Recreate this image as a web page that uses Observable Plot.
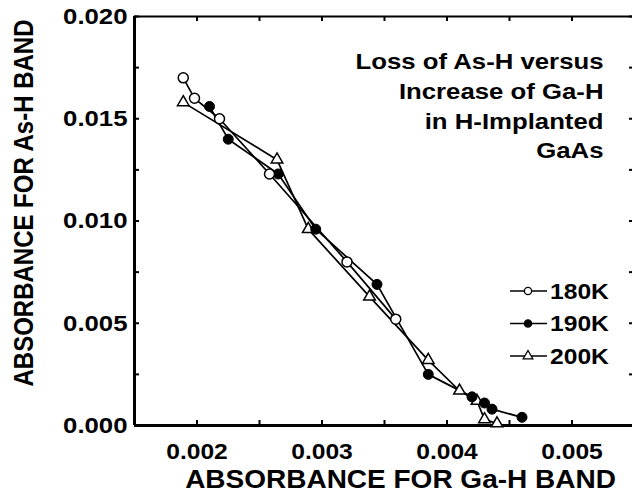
<!DOCTYPE html>
<html>
<head>
<meta charset="utf-8">
<script src="https://cdn.jsdelivr.net/npm/d3@7"></script>
<script src="https://cdn.jsdelivr.net/npm/@observablehq/plot@0.6"></script>
<style>
  html, body { margin: 0; padding: 0; background: #fff; overflow: hidden; }
  #chart svg { display: block; }
</style>
</head>
<body>
<div id="chart"></div>
<script>
// Ga-H band absorbance (x) against As-H band absorbance (y), one pair of arrays per temperature
const ga180 = [0.00189, 0.00198, 0.00218, 0.00258, 0.00320, 0.00359];
const as180 = [0.0170, 0.0160, 0.0150, 0.0123, 0.0080, 0.0052];
const ga190 = [0.00210, 0.00225, 0.00265, 0.00295, 0.00344, 0.00385, 0.00420, 0.00430, 0.00436, 0.00460];
const as190 = [0.0156, 0.0140, 0.0123, 0.0096, 0.0069, 0.0025, 0.0014, 0.0011, 0.0008, 0.0004];
const ga200 = [0.00189, 0.00264, 0.00289, 0.00338, 0.00385, 0.00410, 0.00424, 0.00430, 0.00440];
const as200 = [0.0158, 0.0130, 0.0096, 0.0063, 0.0032, 0.0017, 0.0012, 0.0003, 0.0001];
const temps = ["180K", "190K", "200K"];

// axis ticks and texts
const xTicks = [0.002, 0.003, 0.004, 0.005];
const xMinor = [0.0015, 0.0025, 0.0035, 0.0045, 0.0055];
const yTicks = [0, 0.005, 0.010, 0.015, 0.020];
const yMinor = [0.0025, 0.0075, 0.0125, 0.0175];
const xTitle = "ABSORBANCE FOR Ga-H BAND";
const yTitle = "ABSORBANCE FOR As-H BAND";
const note = ["Loss of As-H versus", "Increase of Ga-H", "in H-Implanted", "GaAs"];

const rows = [];
[[ga180, as180], [ga190, as190], [ga200, as200]].forEach(([gx, ay], k) =>
  gx.forEach((g, i) => rows.push({temp: temps[k], ga: g, as: ay[i]}))
);

const font = "'Liberation Sans', Arial, Helvetica, sans-serif";
const W = 632, H = 497, mL = 134, mR = -2, mT = 16, mB = 72;
const innerW = W - mL - mR, innerH = H - mT - mB;
const tick = 5;
const allX = xTicks.concat(xMinor);
const allY = yTicks.concat(yMinor);

const plot = Plot.plot({
  width: W,
  height: H,
  marginLeft: mL,
  marginRight: mR,
  marginTop: mT,
  marginBottom: mB,
  style: {fontFamily: font, fontWeight: "bold", background: "white", color: "black"},
  x: {domain: [0.0015, 0.0055]},
  y: {domain: [0, 0.02]},
  marks: [
    // frame edges
    Plot.ruleX([0.0015], {strokeWidth: 3}),
    Plot.ruleY([0], {strokeWidth: 3}),
    Plot.ruleY([0.02], {strokeWidth: 2}),
    // short inward ticks on every side
    Plot.tickX(allX, {x: d => d, insetTop: innerH - tick, strokeWidth: 2}),
    Plot.tickX(allX, {x: d => d, insetBottom: innerH - tick, strokeWidth: 2}),
    Plot.tickY(allY, {y: d => d, insetRight: innerW - tick, strokeWidth: 2}),
    Plot.tickY(allY, {y: d => d, insetLeft: innerW - tick, strokeWidth: 2}),
    // tick labels
    Plot.axisX({anchor: "bottom", ticks: xTicks, tickSize: 0, tickPadding: 18, tickFormat: ".3f", fontSize: 22, label: null}),
    Plot.axisY({anchor: "left", ticks: yTicks, tickSize: 0, tickPadding: 7, tickFormat: ".3f", fontSize: 23, label: null}),
    // axis titles
    Plot.text([xTitle], {frameAnchor: "bottom", lineAnchor: "top", dx: 16, dy: 45, fontSize: 25}),
    Plot.text([yTitle], {frameAnchor: "left", textAnchor: "middle", lineAnchor: "middle", rotate: -90, dx: -110, dy: -18, fontSize: 24}),
    // annotation
    Plot.text([note.join("\n")], {frameAnchor: "top-right", textAnchor: "end", lineAnchor: "top", lineHeight: 1.3, dx: -31, dy: 31, fontSize: 23}),
    // series
    Plot.line(rows, {x: "ga", y: "as", z: "temp", stroke: "black", strokeWidth: 1.7}),
    Plot.dot(rows, {filter: d => d.temp === "200K", x: "ga", y: "as", symbol: "triangle", r: 4.3, fill: "white", stroke: "black", strokeWidth: 1.5}),
    Plot.dot(rows, {filter: d => d.temp === "190K", x: "ga", y: "as", r: 5, fill: "black", stroke: "black", strokeWidth: 1}),
    Plot.dot(rows, {filter: d => d.temp === "180K", x: "ga", y: "as", r: 5, fill: "white", stroke: "black", strokeWidth: 1.5})
  ]
});

// legend: line sample with marker, then the temperature
const svg = d3.select(plot);
const legend = svg.append("g")
  .attr("font-family", font).attr("font-weight", "bold").attr("font-size", 22).attr("text-anchor", "start");
temps.forEach((t, i) => {
  const y = 291 + i * 32.5;
  legend.append("line").attr("x1", 510).attr("x2", 547).attr("y1", y).attr("y2", y)
    .attr("stroke", "black").attr("stroke-width", 1.6);
  if (t === "200K") {
    legend.append("path").attr("d", d3.symbol(d3.symbolTriangle, 40)())
      .attr("transform", `translate(528,${y})`).attr("fill", "white").attr("stroke", "black").attr("stroke-width", 1.3);
  } else {
    legend.append("circle").attr("cx", 528).attr("cy", y).attr("r", 3.6)
      .attr("fill", t === "190K" ? "black" : "white").attr("stroke", "black").attr("stroke-width", 1.3);
  }
  legend.append("text").attr("x", 550).attr("y", y).attr("dy", "0.36em").attr("fill", "black").text(t);
});

// the lettering is set slightly wide: stretch each text about its own anchor
svg.selectAll("text").each(function () {
  const t = d3.select(this);
  const x = parseFloat(t.attr("x"));
  const ax = Number.isFinite(x) ? x : 0;
  const tr = t.attr("transform") || "";
  const s = /rotate\(/.test(tr) ? "scale(1,1.12)" : `translate(${ax},0) scale(1.12,1) translate(${-ax},0)`;
  t.attr("transform", `${tr} ${s}`.trim());
});

document.getElementById("chart").append(plot);
</script>
</body>
</html>
